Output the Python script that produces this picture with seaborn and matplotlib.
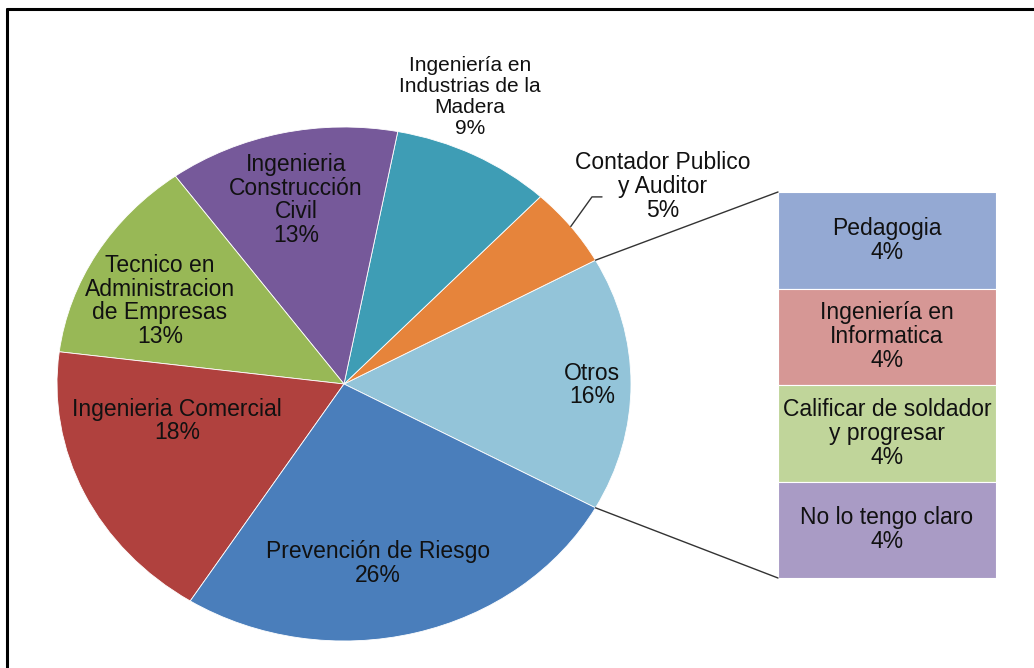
import numpy as np
import matplotlib.pyplot as plt
from matplotlib.patches import ConnectionPatch
from matplotlib.lines import Line2D
import seaborn as sns

# datos de la torta (orden desde "Otros", en sentido antihorario)
pie_labels = ['Otros', 'Contador Publico\ny Auditor',
              'Ingeniería en\nIndustrias de la\nMadera',
              'Ingenieria\nConstrucción\nCivil',
              'Tecnico en\nAdministracion\nde Empresas',
              'Ingenieria Comercial', 'Prevención de Riesgo']
pie_values = [16, 5, 9, 13, 13, 18, 26]
pie_colors = ['#93C4D9', '#E6843B', '#3E9DB5', '#76599A',
              '#98B856', '#B0413E', '#4A7EBB']

# desglose de "Otros"
bar_labels = ['Pedagogia', 'Ingeniería en\nInformatica',
              'Calificar de soldador\ny progresar', 'No lo tengo claro']
bar_values = [4, 4, 4, 4]
bar_colors = ['#94A9D3', '#D69795', '#C0D59A', '#A99BC5']

# posiciones de las etiquetas (coordenadas de la torta)
label_pos = [(0.864, -0.004), (1.111, 0.770), (0.439, 1.117), (-0.167, 0.716),
             (-0.641, 0.323), (-0.582, -0.144), (0.118, -0.697)]

sns.set_theme(style='white')
plt.rcParams['font.family'] = ['Liberation Sans', 'DejaVu Sans']
txt_color = '#111111'
fs = 16.5

W, H = 1034, 668
fig = plt.figure(figsize=(W / 100, H / 100), dpi=100)
fig.patch.set_facecolor('white')


def box(x0, y0, x1, y1):
    return [x0 / W, 1 - y1 / H, (x1 - x0) / W, (y1 - y0) / H]


# torta
ax = fig.add_axes(box(57, 127, 631, 641))
start = -pie_values[0] / sum(pie_values) * 360 / 2
wedges, _ = ax.pie(pie_values, colors=pie_colors, startangle=start,
                   wedgeprops=dict(edgecolor='white', linewidth=0.6))
ax.set_aspect('auto')
ax.set_xlim(-1, 1)
ax.set_ylim(-1, 1)

for i, (lab, val, (px, py)) in enumerate(zip(pie_labels, pie_values, label_pos)):
    size, ls = fs, 1.05
    if i == 2:  # etiqueta de Madera, letra mas angosta
        size, ls = 15, 1.15
    ax.text(px, py, f'{lab}\n{val}%', ha='center', va='center', fontsize=size,
            color=txt_color, linespacing=ls)

# linea guia de Contador Publico
mid = np.deg2rad(start + (pie_values[0] + pie_values[1] / 2) / sum(pie_values) * 360)
ax.plot([np.cos(mid), 0.864, 0.899], [np.sin(mid), 0.728, 0.728],
        color='#333333', lw=1, clip_on=False)

# barra apilada
axb = fig.add_axes(box(778, 192, 996, 578))
bottoms = np.cumsum([0] + bar_values[:-1])
axb.bar(0, bar_values, bottom=bottoms, width=1, color=bar_colors,
        edgecolor='white', linewidth=0.8)
axb.set_xlim(-0.5, 0.5)
axb.set_ylim(sum(bar_values), 0)
axb.axis('off')
for lab, val, b in zip(bar_labels, bar_values, bottoms):
    axb.text(0, b + val / 2, f'{lab}\n{val}%', ha='center', va='center',
             fontsize=fs, color=txt_color, linespacing=1.05)

# lineas de conexion
t1 = np.deg2rad(start)
t2 = np.deg2rad(-start)
for (a, yb) in [(t2, 0), (t1, sum(bar_values))]:
    con = ConnectionPatch(xyA=(np.cos(a), np.sin(a)), coordsA=ax.transData,
                          xyB=(-0.5, yb), coordsB=axb.transData,
                          color='#333333', lw=1)
    fig.add_artist(con)

# marco
fig.add_artist(Line2D([7 / W, 7 / W], [0, 1 - 8.5 / H], transform=fig.transFigure,
                      color='black', lw=2.2))
fig.add_artist(Line2D([7 / W, 1], [1 - 8.5 / H, 1 - 8.5 / H], transform=fig.transFigure,
                      color='black', lw=2.2))

fig.savefig('out.png', dpi=100)
